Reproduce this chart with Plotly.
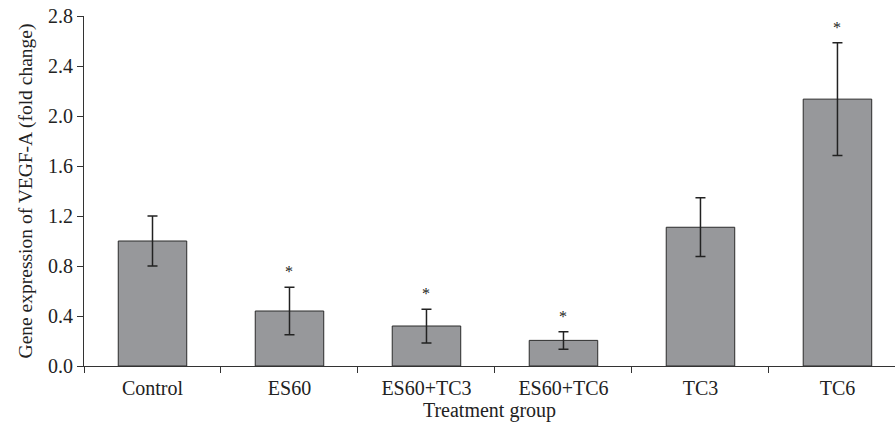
import plotly.graph_objects as go

categories = ["Control", "ES60", "ES60+TC3", "ES60+TC6", "TC3", "TC6"]
means = [1.00, 0.44, 0.32, 0.205, 1.11, 2.135]
errors = [0.20, 0.19, 0.135, 0.07, 0.235, 0.45]
significant = [False, True, True, True, False, True]

font_family = "Liberation Serif, Times New Roman, serif"

fig = go.Figure()
fig.add_trace(go.Bar(
    x=categories, y=means, width=0.5,
    marker=dict(color="#97989b", line=dict(color="#2b2b2b", width=1)),
    error_y=dict(type="data", array=errors, visible=True, color="#222222", thickness=1.5, width=5),
))

for c, m, e, s in zip(categories, means, errors, significant):
    if s:
        fig.add_annotation(x=c, y=m + e, text="*", showarrow=False, yanchor="bottom",
                           yshift=5, font=dict(family=font_family, size=16, color="#222222"))

fig.update_layout(
    width=895, height=428,
    margin=dict(l=84, r=0, t=16, b=62),
    plot_bgcolor="white", paper_bgcolor="white",
    font=dict(family=font_family, size=15, color="#222222"),
    showlegend=False,
    bargap=0.5,
)
fig.update_xaxes(
    range=[-0.5, 5.42], showline=True, linecolor="#333333", linewidth=1,
    ticks="outside", tickson="boundaries", ticklen=6, tickcolor="#333333",
    ticklabelstandoff=4,
    title=dict(text="Treatment group", font=dict(size=20), standoff=2),
    tickfont=dict(size=20), showgrid=False,
)
fig.update_yaxes(
    range=[0, 2.8], dtick=0.4, tick0=0, tickformat=".1f", showline=True, linecolor="#333333", linewidth=1,
    ticks="outside", ticklen=6, tickcolor="#333333", showgrid=False, zeroline=False,
    title=dict(text="Gene expression of VEGF-A (fold change)", font=dict(size=19.5), standoff=10),
    tickfont=dict(size=20),
)

fig.write_html("out.html")
